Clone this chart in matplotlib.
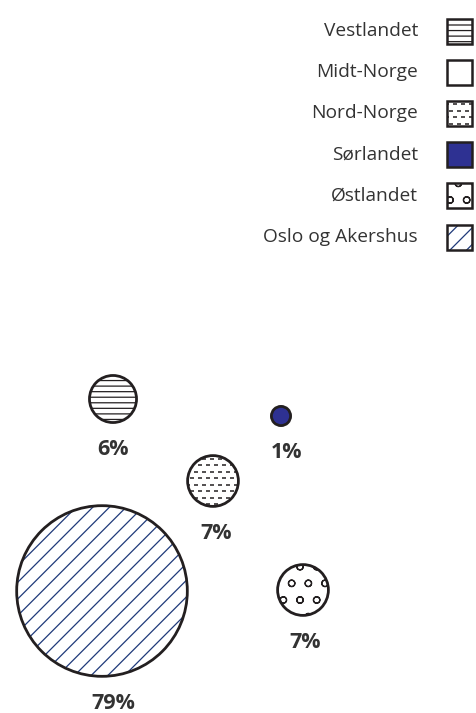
"""
Boblediagram : andel per landsdel (Vestlandet, Sørlandet, ...).
Sauvegarde en out.png (477x713 px).
"""

import numpy as np
import matplotlib
matplotlib.use("Agg")
import matplotlib.pyplot as plt
from matplotlib.patches import Circle, Rectangle
from matplotlib.collections import LineCollection


# ============================== Data

regions = ["Vestlandet", "Midt-Norge", "Nord-Norge", "Sørlandet", "Østlandet", "Oslo og Akershus"]
shares = [6, 0, 7, 1, 7, 79]  # %

# position des bulles (px, origine en haut a gauche) ; Midt-Norge = 0 % -> pas de bulle
bubble_x = [113, np.nan, 213, 281, 303, 102]
bubble_y = [399, np.nan, 481, 416, 590, 591]


# ============================== Styles

W, H = 477, 713
EDGE = "#231f20"
TEXT = "#333333"
BLUE = "#2e3192"
HATCH_BLUE = "#1f3a7a"
R_SCALE = 9.6          # rayon (px) = R_SCALE * sqrt(share)
LABEL_GAP = 27         # distance bas de bulle -> centre du label
LABEL_DX = [0, 0, 3, 6, 2, 11]

styles = {
    "Vestlandet": dict(face="white", hatch="---", hatch_color=EDGE),
    "Midt-Norge": dict(face="white", hatch=None, hatch_color=EDGE),
    "Nord-Norge": dict(face="white", hatch="dash", hatch_color=EDGE),
    "Sørlandet": dict(face=BLUE, hatch=None, hatch_color=EDGE),
    "Østlandet": dict(face="white", hatch="o", hatch_color=EDGE),
    "Oslo og Akershus": dict(face="white", hatch="//", hatch_color=HATCH_BLUE),
}

plt.rcParams["font.family"] = ["Open Sans", "DejaVu Sans"]
plt.rcParams["hatch.linewidth"] = 0.9


# ============================== Helpers

def dashed_fill(ax, patch, x0, x1, y0, y1, step=6.5, dash=4, gap=4, color=EDGE):
    """Rangées de petits tirets (motif Nord-Norge), clippées sur le patch."""
    segs = []
    for i, y in enumerate(np.arange(y0 + step / 2, y1, step)):
        start = x0 - 2 + (i % 2) * (dash + gap) / 2
        for xs in np.arange(start, x1, dash + gap):
            a, b = max(xs, x0), min(xs + dash, x1)
            if b > a:
                segs.append([(a, y), (b, y)])
    lc = LineCollection(segs, colors=color, linewidths=1.1, zorder=2)
    lc.set_clip_path(patch)
    ax.add_collection(lc)


def styled_patch(ax, make_patch, style, bbox, lw):
    """Dessine fond + motif + contour pour un patch (cercle ou carré)."""
    base = make_patch(facecolor=style["face"], edgecolor="none", zorder=1)
    ax.add_patch(base)
    if style["hatch"] == "dash":
        dashed_fill(ax, base, *bbox)
    elif style["hatch"]:
        hp = make_patch(facecolor="none", edgecolor=style["hatch_color"],
                        hatch=style["hatch"], linewidth=0, zorder=2)
        ax.add_patch(hp)
    ax.add_patch(make_patch(facecolor="none", edgecolor=EDGE, linewidth=lw, zorder=3))


# ============================== Figure

fig = plt.figure(figsize=(W / 100, H / 100), dpi=100)
ax = fig.add_axes([0, 0, 1, 1])
ax.set_xlim(0, W)
ax.set_ylim(H, 0)
ax.axis("off")

# ------------------------- Bulles + labels
for name, v, x, y, dx in zip(regions, shares, bubble_x, bubble_y, LABEL_DX):
    if v <= 0 or np.isnan(x):
        continue
    r = R_SCALE * np.sqrt(v)
    styled_patch(ax, lambda **kw: Circle((x, y), r, **kw), styles[name],
                 (x - r, x + r, y - r, y + r), lw=2.0)
    ax.text(x + dx, y + r + LABEL_GAP, f"{v}%", ha="center", va="center",
            fontsize=15.5, fontweight="bold", color=TEXT)

# ------------------------- Légende (texte à gauche, carré à droite)
LEG_Y0, LEG_STEP, SQ = 31, 41.2, 25
for i, name in enumerate(regions):
    yc = LEG_Y0 + i * LEG_STEP
    ax.text(418, yc, name, ha="right", va="center", fontsize=13.8, color=TEXT)
    sx, sy = 447, yc - SQ / 2
    styled_patch(ax, lambda **kw: Rectangle((sx, sy), SQ, SQ, **kw), styles[name],
                 (sx, sx + SQ, sy, sy + SQ), lw=1.8)

fig.savefig("out.png", dpi=100)
